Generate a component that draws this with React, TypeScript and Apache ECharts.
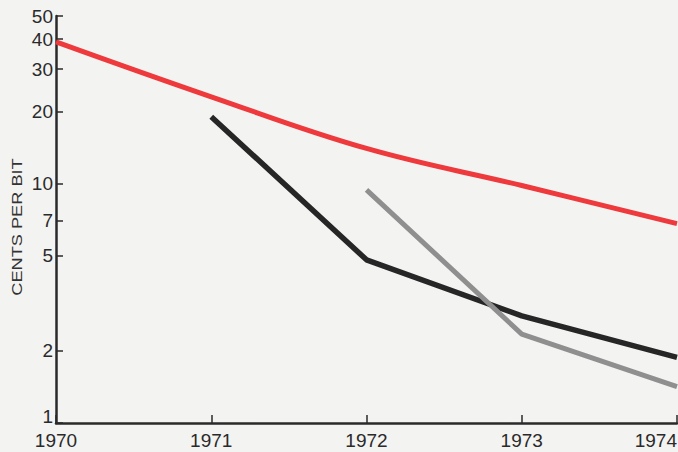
import React, { useEffect, useRef } from "react";
import * as echarts from "echarts";

const years = [1970, 1971, 1972, 1973, 1974];
const redSeries = [39, 23, 14, 9.8, 6.8];
const blackSeries = [null, 19, 4.8, 2.8, 1.88];
const graySeries = [null, null, 9.4, 2.35, 1.42];
const yTicks = [1, 2, 5, 7, 10, 20, 30, 40, 50];
const yAxisTitle = "CENTS PER BIT";

const font = "Liberation Sans";

function pairs(vals: (number | null)[]) {
  return years
    .map((y, i) => [y, vals[i]])
    .filter((p) => p[1] !== null);
}

export default function App() {
  const ref = useRef<HTMLDivElement>(null);
  useEffect(() => {
    document.body.style.margin = "0";
    const chart = echarts.init(ref.current!, null, { renderer: "svg" });
    chart.setOption({
      animation: false,
      backgroundColor: "#f3f3f1",
      grid: { left: 56, right: 1, top: 16, bottom: 29, outerBoundsMode: "none", containLabel: false },
      graphic: [
        {
          type: "text",
          x: 17,
          y: 227,
          rotation: Math.PI / 2,
          scaleX: 1.3,
          style: {
            text: yAxisTitle,
            fill: "#333",
            font: `14px "${font}"`,
            align: "center",
            verticalAlign: "middle",
          },
        },
      ],
      xAxis: {
        type: "value",
        min: 1970,
        max: 1974,
        interval: 1,
        splitLine: { show: false },
        axisLine: { lineStyle: { color: "#2a2a2a", width: 2.5 } },
        axisTick: { inside: true, length: 8, lineStyle: { color: "#2a2a2a", width: 1.5 } },
        axisLabel: {
          color: "#2a2a2a",
          fontFamily: font,
          fontSize: 19,
          lineHeight: 14,
          margin: 10,
          alignMaxLabel: "right",
          formatter: (v: number) => String(v),
        },
      },
      yAxis: {
        type: "log",
        logBase: 10,
        min: 1,
        max: 50,
        splitLine: { show: false },
        axisLine: { show: true, lineStyle: { color: "#2a2a2a", width: 2.5 } },
        axisTick: {
          show: true,
          inside: true,
          length: 7,
          customValues: yTicks,
          lineStyle: { color: "#2a2a2a", width: 1.5 },
        },
        axisLabel: {
          color: "#2a2a2a",
          fontFamily: font,
          fontSize: 19,
          lineHeight: 14,
          margin: 3,
          verticalAlignMinLabel: "bottom",
          customValues: yTicks,
          formatter: (v: number) => String(Math.round(v)),
        },
      },
      series: [
        {
          type: "line",
          data: pairs(redSeries),
          smooth: 0.4,
          showSymbol: false,
          lineStyle: { color: "#ee3a3c", width: 5 },
        },
        {
          type: "line",
          data: pairs(blackSeries),
          showSymbol: false,
          lineStyle: { color: "#262626", width: 5.5 },
        },
        {
          type: "line",
          data: pairs(graySeries),
          showSymbol: false,
          lineStyle: { color: "#8f8f8f", width: 5 },
        },
      ],
    });
    return () => chart.dispose();
  }, []);
  return <div ref={ref} style={{ width: 678, height: 452 }} />;
}
